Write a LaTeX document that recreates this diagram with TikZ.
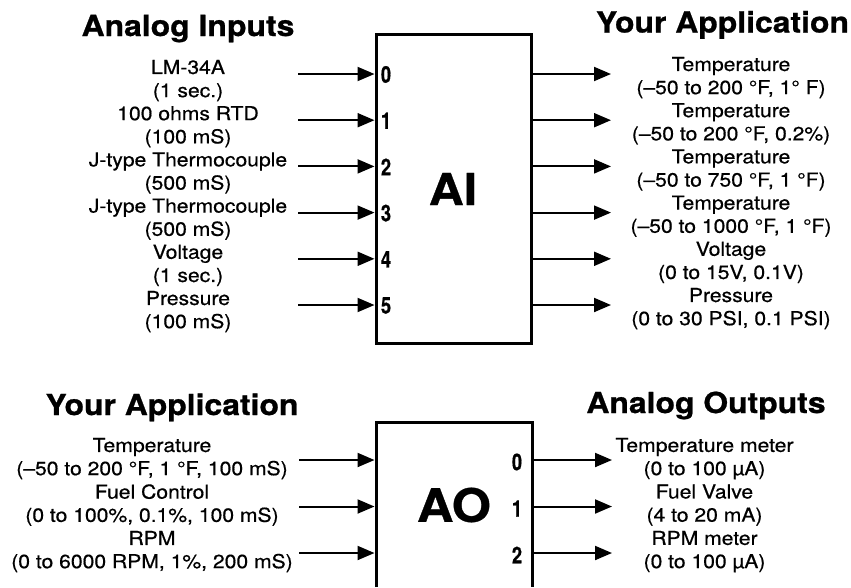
\documentclass[tikz,border=0pt]{standalone}
\usepackage{fontspec}
\setmainfont{TeX Gyre Heros}[FakeStretch=1.1, UprightFeatures={FakeBold=0.6}, BoldFeatures={FakeBold=0.8}]
\usetikzlibrary{arrows.meta}
\newcommand\portnum[1]{\scalebox{0.72}[1]{#1}}
\begin{document}
\begin{tikzpicture}[x=1pt,y=-1pt,
  lbl/.style={align=center, font=\fontsize{19.2}{23.2}\selectfont, inner sep=0pt},
  ttl/.style={font=\fontsize{29}{33}\selectfont\bfseries, inner sep=0pt, anchor=base},
  port/.style={font=\fontsize{23}{26}\selectfont\bfseries, inner sep=0pt},
  big/.style={font=\fontsize{44}{48}\selectfont\bfseries, inner sep=0pt},
  arr/.style={line width=2pt, -{Triangle[length=17pt,width=14pt]}},
  boxline/.style={line width=3pt, line join=miter}]
\useasboundingbox[fill=white] (0,0) rectangle (851,587);

% ---------- Titles
\node[ttl] (t1) at (188,36) {Analog Inputs};
\node[ttl] (t2) at (722.5,32.5) {Your Application};
\node[ttl] (t3) at (172,415) {Your Application};
\node[ttl] (t4) at (706,413) {Analog Outputs};

% ---------- AI block
\node[boxline, draw, minimum width=155, minimum height=309, inner sep=0pt] (AI) at (453.5,188.5) {};
\node[big] (AItxt) at (453,189) {AI};

\foreach \i/\yy/\ltxt/\rtxt in {
  0/74/{LM-34A\\(1 sec.)}/{Temperature\\(–50 to 200 °F, 1° F)},
  1/120.2/{100 ohms RTD\\(100 mS)}/{Temperature\\(–50 to 200 °F, 0.2\%)},
  2/166.4/{J-type Thermocouple\\(500 mS)}/{Temperature\\(–50 to 750 °F, 1 °F)},
  3/212.6/{J-type Thermocouple\\(500 mS)}/{Temperature\\(–50 to 1000 °F, 1 °F)},
  4/258.8/{Voltage\\(1 sec.)}/{Voltage\\(0 to 15V, 0.1V)},
  5/305/{Pressure\\(100 mS)}/{Pressure\\(0 to 30 PSI, 0.1 PSI)}}{
  \node[lbl] (ail\i) at (188,\yy+6.6) {\ltxt};
  \node[lbl] (air\i) at (731,\yy+3.6) {\rtxt};
  \coordinate (ais\i) at (298,\yy);
  \coordinate (aie\i) at (611,\yy);
  \node[port] (aip\i) at (386,\yy+0.5) {\portnum{\i}};
  \draw[arr] (ais\i) -- (ais\i -| AI.west);
  \draw[arr] (aie\i -| AI.east) -- (aie\i);
}

% ---------- AO block (open at the bottom)
\coordinate (AOsw) at (376,587);
\coordinate (AOnw) at (376,422);
\coordinate (AOne) at (532,422);
\coordinate (AOse) at (532,587);
\coordinate (AOw) at (374.5,500);
\coordinate (AOe) at (533.5,500);
\draw[boxline] (AOsw) -- (AOnw) -- (AOne) -- (AOse);
\node[big, font=\fontsize{46}{50}\selectfont\bfseries] (AOtxt) at (454,505) {AO};

\foreach \i/\yy/\ltxt/\rtxt in {
  0/460/{Temperature\\(–50 to 200 °F, 1 °F, 100 mS)}/{Temperature meter\\(0 to 100 µA)},
  1/506.5/{Fuel Control\\(0 to 100\%, 0.1\%, 100 mS)}/{Fuel Valve\\(4 to 20 mA)},
  2/553/{RPM\\(0 to 6000 RPM, 1\%, 200 mS)}/{RPM meter\\(0 to 100 µA)}}{
  \node[lbl] (aol\i) at (152,\yy-1.4) {\ltxt};
  \node[lbl] (aor\i) at (704.5,\yy-1.4) {\rtxt};
  \coordinate (aos\i) at (299,\yy);
  \coordinate (aoe\i) at (612,\yy);
  \node[port] (aop\i) at (517,\yy+2) {\portnum{\i}};
  \draw[arr] (aos\i) -- (aos\i -| AOw);
  \draw[arr] (aoe\i -| AOe) -- (aoe\i);
}
\end{tikzpicture}
\end{document}
